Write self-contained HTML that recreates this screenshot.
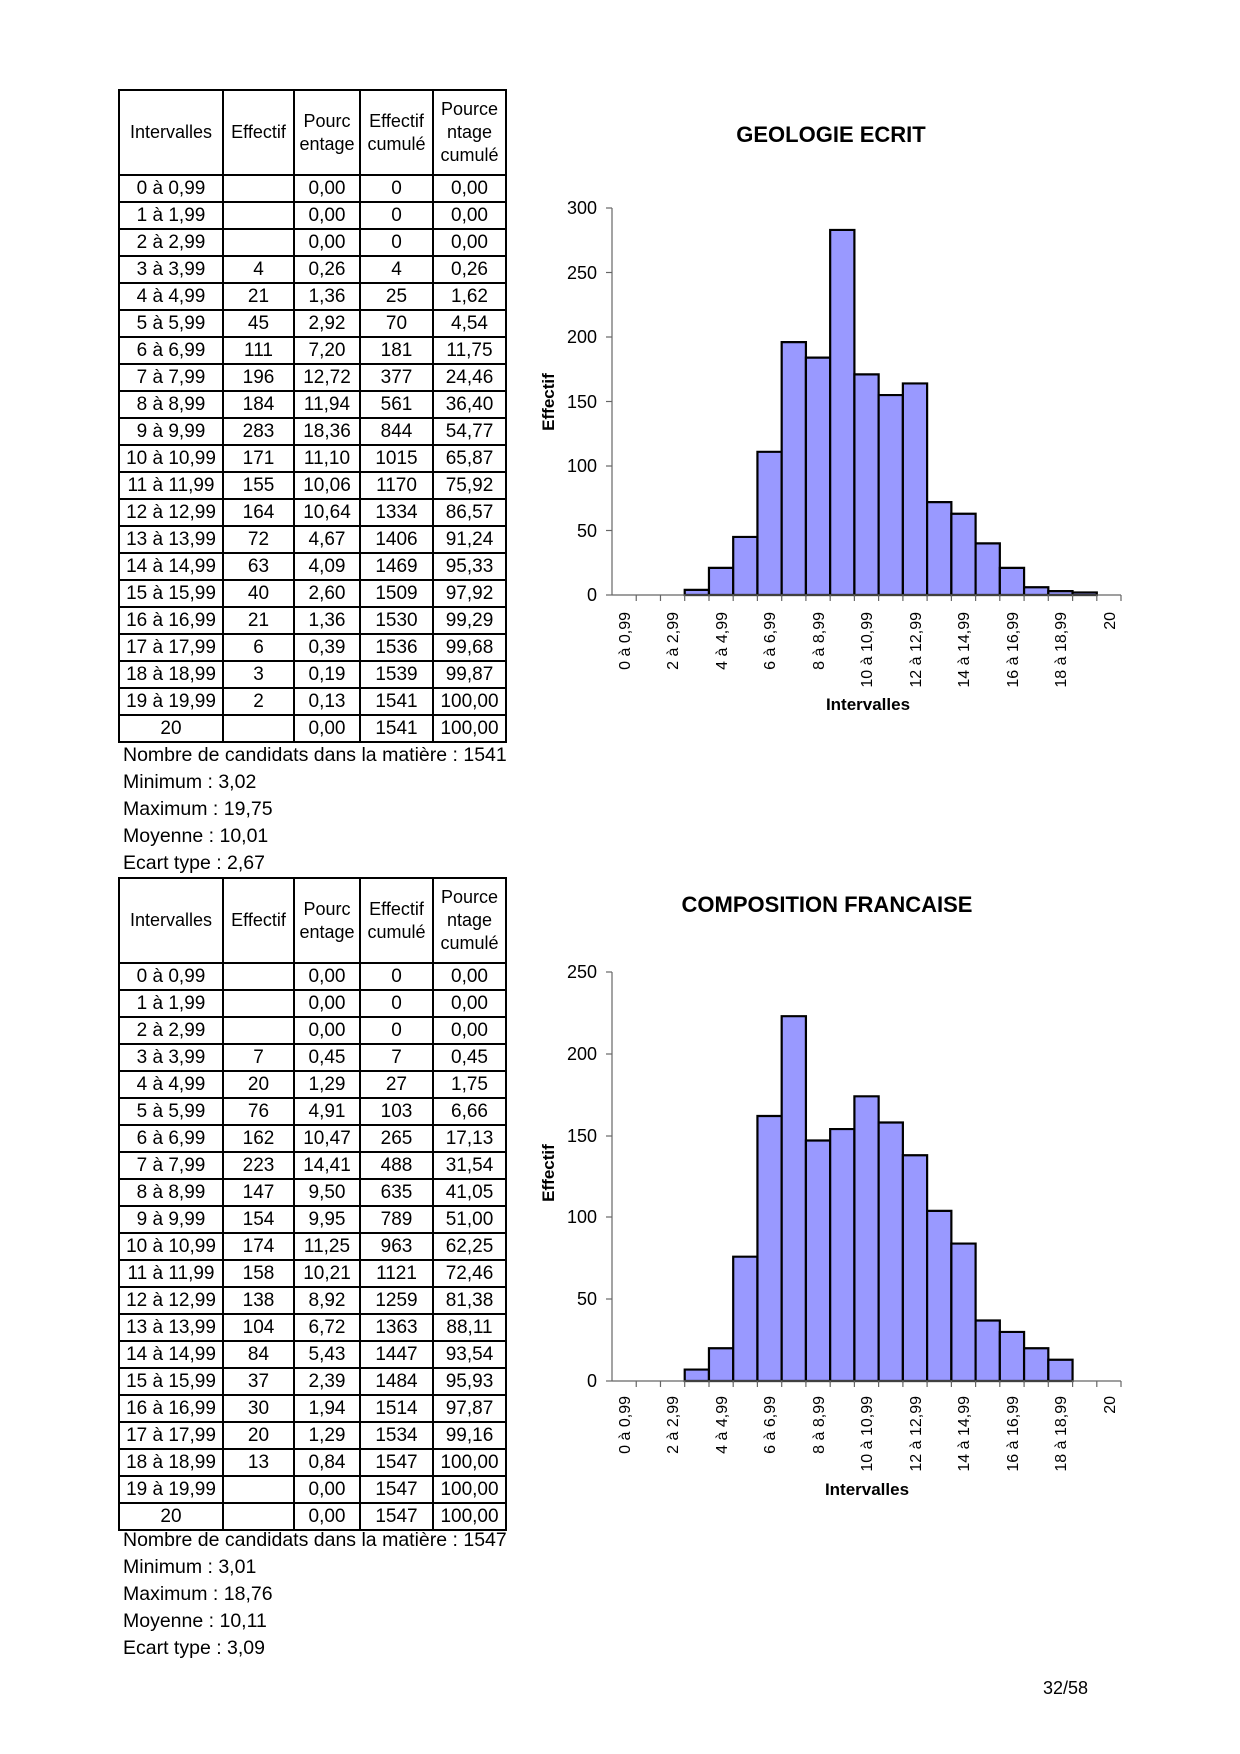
<!DOCTYPE html>
<html><head><meta charset="utf-8"><style>
body{margin:0;background:#fff;font-family:"Liberation Sans",Arial,sans-serif;}
.pg{position:relative;width:1240px;height:1754px;overflow:hidden;}
table{position:absolute;left:118px;border-collapse:collapse;width:387px;table-layout:fixed;font-size:19px;}
td{border:2px solid #000;text-align:center;padding:0;height:25px;line-height:24px;white-space:nowrap;overflow:visible;}
tr.h td{height:83px;font-size:18px;line-height:23px;white-space:normal;}
.st{position:absolute;left:123px;font-size:19.5px;line-height:27px;}
svg{position:absolute;left:0;top:0;}
</style></head><body><div class="pg">
<table style="top:89px">
<colgroup><col style="width:104px"><col style="width:71px"><col style="width:66px"><col style="width:73px"><col style="width:73px"></colgroup>
<tr class="h"><td>Intervalles</td><td>Effectif</td><td>Pourc<br>entage</td><td>Effectif<br>cumulé</td><td>Pource<br>ntage<br>cumulé</td></tr>
<tr><td>0 à 0,99</td><td></td><td>0,00</td><td>0</td><td>0,00</td></tr>
<tr><td>1 à 1,99</td><td></td><td>0,00</td><td>0</td><td>0,00</td></tr>
<tr><td>2 à 2,99</td><td></td><td>0,00</td><td>0</td><td>0,00</td></tr>
<tr><td>3 à 3,99</td><td>4</td><td>0,26</td><td>4</td><td>0,26</td></tr>
<tr><td>4 à 4,99</td><td>21</td><td>1,36</td><td>25</td><td>1,62</td></tr>
<tr><td>5 à 5,99</td><td>45</td><td>2,92</td><td>70</td><td>4,54</td></tr>
<tr><td>6 à 6,99</td><td>111</td><td>7,20</td><td>181</td><td>11,75</td></tr>
<tr><td>7 à 7,99</td><td>196</td><td>12,72</td><td>377</td><td>24,46</td></tr>
<tr><td>8 à 8,99</td><td>184</td><td>11,94</td><td>561</td><td>36,40</td></tr>
<tr><td>9 à 9,99</td><td>283</td><td>18,36</td><td>844</td><td>54,77</td></tr>
<tr><td>10 à 10,99</td><td>171</td><td>11,10</td><td>1015</td><td>65,87</td></tr>
<tr><td>11 à 11,99</td><td>155</td><td>10,06</td><td>1170</td><td>75,92</td></tr>
<tr><td>12 à 12,99</td><td>164</td><td>10,64</td><td>1334</td><td>86,57</td></tr>
<tr><td>13 à 13,99</td><td>72</td><td>4,67</td><td>1406</td><td>91,24</td></tr>
<tr><td>14 à 14,99</td><td>63</td><td>4,09</td><td>1469</td><td>95,33</td></tr>
<tr><td>15 à 15,99</td><td>40</td><td>2,60</td><td>1509</td><td>97,92</td></tr>
<tr><td>16 à 16,99</td><td>21</td><td>1,36</td><td>1530</td><td>99,29</td></tr>
<tr><td>17 à 17,99</td><td>6</td><td>0,39</td><td>1536</td><td>99,68</td></tr>
<tr><td>18 à 18,99</td><td>3</td><td>0,19</td><td>1539</td><td>99,87</td></tr>
<tr><td>19 à 19,99</td><td>2</td><td>0,13</td><td>1541</td><td>100,00</td></tr>
<tr><td>20</td><td></td><td>0,00</td><td>1541</td><td>100,00</td></tr>
</table>
<div class="st" style="top:742px">Nombre de candidats dans la matière : 1541<br>Minimum : 3,02<br>Maximum : 19,75<br>Moyenne : 10,01<br>Ecart type : 2,67</div>

<table style="top:877px">
<colgroup><col style="width:104px"><col style="width:71px"><col style="width:66px"><col style="width:73px"><col style="width:73px"></colgroup>
<tr class="h"><td>Intervalles</td><td>Effectif</td><td>Pourc<br>entage</td><td>Effectif<br>cumulé</td><td>Pource<br>ntage<br>cumulé</td></tr>
<tr><td>0 à 0,99</td><td></td><td>0,00</td><td>0</td><td>0,00</td></tr>
<tr><td>1 à 1,99</td><td></td><td>0,00</td><td>0</td><td>0,00</td></tr>
<tr><td>2 à 2,99</td><td></td><td>0,00</td><td>0</td><td>0,00</td></tr>
<tr><td>3 à 3,99</td><td>7</td><td>0,45</td><td>7</td><td>0,45</td></tr>
<tr><td>4 à 4,99</td><td>20</td><td>1,29</td><td>27</td><td>1,75</td></tr>
<tr><td>5 à 5,99</td><td>76</td><td>4,91</td><td>103</td><td>6,66</td></tr>
<tr><td>6 à 6,99</td><td>162</td><td>10,47</td><td>265</td><td>17,13</td></tr>
<tr><td>7 à 7,99</td><td>223</td><td>14,41</td><td>488</td><td>31,54</td></tr>
<tr><td>8 à 8,99</td><td>147</td><td>9,50</td><td>635</td><td>41,05</td></tr>
<tr><td>9 à 9,99</td><td>154</td><td>9,95</td><td>789</td><td>51,00</td></tr>
<tr><td>10 à 10,99</td><td>174</td><td>11,25</td><td>963</td><td>62,25</td></tr>
<tr><td>11 à 11,99</td><td>158</td><td>10,21</td><td>1121</td><td>72,46</td></tr>
<tr><td>12 à 12,99</td><td>138</td><td>8,92</td><td>1259</td><td>81,38</td></tr>
<tr><td>13 à 13,99</td><td>104</td><td>6,72</td><td>1363</td><td>88,11</td></tr>
<tr><td>14 à 14,99</td><td>84</td><td>5,43</td><td>1447</td><td>93,54</td></tr>
<tr><td>15 à 15,99</td><td>37</td><td>2,39</td><td>1484</td><td>95,93</td></tr>
<tr><td>16 à 16,99</td><td>30</td><td>1,94</td><td>1514</td><td>97,87</td></tr>
<tr><td>17 à 17,99</td><td>20</td><td>1,29</td><td>1534</td><td>99,16</td></tr>
<tr><td>18 à 18,99</td><td>13</td><td>0,84</td><td>1547</td><td>100,00</td></tr>
<tr><td>19 à 19,99</td><td></td><td>0,00</td><td>1547</td><td>100,00</td></tr>
<tr><td>20</td><td></td><td>0,00</td><td>1547</td><td>100,00</td></tr>
</table>
<div class="st" style="top:1527px">Nombre de candidats dans la matière : 1547<br>Minimum : 3,01<br>Maximum : 18,76<br>Moyenne : 10,11<br>Ecart type : 3,09</div>

<svg width="1240" height="1754" font-family="Liberation Sans, Arial, sans-serif">
<!-- Chart 1 -->
<text x="831" y="142" font-size="22" font-weight="bold" text-anchor="middle">GEOLOGIE ECRIT</text>
<g transform="translate(612,595) scale(24.24,-1.29)" fill="#9999ff" stroke="#000" stroke-width="2.2">
<rect vector-effect="non-scaling-stroke" x="3" y="0" width="1" height="4"/>
<rect vector-effect="non-scaling-stroke" x="4" y="0" width="1" height="21"/>
<rect vector-effect="non-scaling-stroke" x="5" y="0" width="1" height="45"/>
<rect vector-effect="non-scaling-stroke" x="6" y="0" width="1" height="111"/>
<rect vector-effect="non-scaling-stroke" x="7" y="0" width="1" height="196"/>
<rect vector-effect="non-scaling-stroke" x="8" y="0" width="1" height="184"/>
<rect vector-effect="non-scaling-stroke" x="9" y="0" width="1" height="283"/>
<rect vector-effect="non-scaling-stroke" x="10" y="0" width="1" height="171"/>
<rect vector-effect="non-scaling-stroke" x="11" y="0" width="1" height="155"/>
<rect vector-effect="non-scaling-stroke" x="12" y="0" width="1" height="164"/>
<rect vector-effect="non-scaling-stroke" x="13" y="0" width="1" height="72"/>
<rect vector-effect="non-scaling-stroke" x="14" y="0" width="1" height="63"/>
<rect vector-effect="non-scaling-stroke" x="15" y="0" width="1" height="40"/>
<rect vector-effect="non-scaling-stroke" x="16" y="0" width="1" height="21"/>
<rect vector-effect="non-scaling-stroke" x="17" y="0" width="1" height="6"/>
<rect vector-effect="non-scaling-stroke" x="18" y="0" width="1" height="3"/>
<rect vector-effect="non-scaling-stroke" x="19" y="0" width="1" height="2"/>
</g>
<g stroke="#666" stroke-width="1.2">
<line x1="612" y1="208" x2="612" y2="595"/><line x1="612" y1="595" x2="1121" y2="595"/>
<line x1="606" y1="595" x2="612" y2="595"/><line x1="606" y1="530.5" x2="612" y2="530.5"/><line x1="606" y1="466" x2="612" y2="466"/><line x1="606" y1="401.5" x2="612" y2="401.5"/><line x1="606" y1="337" x2="612" y2="337"/><line x1="606" y1="272.5" x2="612" y2="272.5"/><line x1="606" y1="208" x2="612" y2="208"/>
</g>
<g stroke="#666" stroke-width="1.2" transform="translate(612,595)">
<line x1="24.24" y1="0" x2="24.24" y2="6"/><line x1="48.48" y1="0" x2="48.48" y2="6"/><line x1="72.7" y1="0" x2="72.7" y2="6"/><line x1="97" y1="0" x2="97" y2="6"/><line x1="121.2" y1="0" x2="121.2" y2="6"/><line x1="145.4" y1="0" x2="145.4" y2="6"/><line x1="169.7" y1="0" x2="169.7" y2="6"/><line x1="193.9" y1="0" x2="193.9" y2="6"/><line x1="218.2" y1="0" x2="218.2" y2="6"/><line x1="242.4" y1="0" x2="242.4" y2="6"/><line x1="266.6" y1="0" x2="266.6" y2="6"/><line x1="290.9" y1="0" x2="290.9" y2="6"/><line x1="315.1" y1="0" x2="315.1" y2="6"/><line x1="339.4" y1="0" x2="339.4" y2="6"/><line x1="363.6" y1="0" x2="363.6" y2="6"/><line x1="387.8" y1="0" x2="387.8" y2="6"/><line x1="412.1" y1="0" x2="412.1" y2="6"/><line x1="436.3" y1="0" x2="436.3" y2="6"/><line x1="460.6" y1="0" x2="460.6" y2="6"/><line x1="484.8" y1="0" x2="484.8" y2="6"/><line x1="509" y1="0" x2="509" y2="6"/>
</g>
<g font-size="18" text-anchor="end">
<text x="597" y="601">0</text><text x="597" y="537">50</text><text x="597" y="472">100</text><text x="597" y="408">150</text><text x="597" y="343">200</text><text x="597" y="279">250</text><text x="597" y="214">300</text>
</g>
<g font-size="16" text-anchor="end">
<text transform="translate(630,612) rotate(-90)">0 à 0,99</text>
<text transform="translate(678,612) rotate(-90)">2 à 2,99</text>
<text transform="translate(727,612) rotate(-90)">4 à 4,99</text>
<text transform="translate(775,612) rotate(-90)">6 à 6,99</text>
<text transform="translate(824,612) rotate(-90)">8 à 8,99</text>
<text transform="translate(872,612) rotate(-90)">10 à 10,99</text>
<text transform="translate(921,612) rotate(-90)">12 à 12,99</text>
<text transform="translate(969,612) rotate(-90)">14 à 14,99</text>
<text transform="translate(1018,612) rotate(-90)">16 à 16,99</text>
<text transform="translate(1066,612) rotate(-90)">18 à 18,99</text>
<text transform="translate(1115,612) rotate(-90)">20</text>
</g>
<text x="868" y="710" font-size="17" font-weight="bold" text-anchor="middle">Intervalles</text>
<text transform="translate(554,402) rotate(-90)" font-size="17" font-weight="bold" text-anchor="middle">Effectif</text>

<!-- Chart 2 -->
<text x="827" y="912" font-size="22" font-weight="bold" text-anchor="middle">COMPOSITION FRANCAISE</text>
<g transform="translate(612,1381) scale(24.24,-1.636)" fill="#9999ff" stroke="#000" stroke-width="2.2">
<rect vector-effect="non-scaling-stroke" x="3" y="0" width="1" height="7"/>
<rect vector-effect="non-scaling-stroke" x="4" y="0" width="1" height="20"/>
<rect vector-effect="non-scaling-stroke" x="5" y="0" width="1" height="76"/>
<rect vector-effect="non-scaling-stroke" x="6" y="0" width="1" height="162"/>
<rect vector-effect="non-scaling-stroke" x="7" y="0" width="1" height="223"/>
<rect vector-effect="non-scaling-stroke" x="8" y="0" width="1" height="147"/>
<rect vector-effect="non-scaling-stroke" x="9" y="0" width="1" height="154"/>
<rect vector-effect="non-scaling-stroke" x="10" y="0" width="1" height="174"/>
<rect vector-effect="non-scaling-stroke" x="11" y="0" width="1" height="158"/>
<rect vector-effect="non-scaling-stroke" x="12" y="0" width="1" height="138"/>
<rect vector-effect="non-scaling-stroke" x="13" y="0" width="1" height="104"/>
<rect vector-effect="non-scaling-stroke" x="14" y="0" width="1" height="84"/>
<rect vector-effect="non-scaling-stroke" x="15" y="0" width="1" height="37"/>
<rect vector-effect="non-scaling-stroke" x="16" y="0" width="1" height="30"/>
<rect vector-effect="non-scaling-stroke" x="17" y="0" width="1" height="20"/>
<rect vector-effect="non-scaling-stroke" x="18" y="0" width="1" height="13"/>
</g>
<g stroke="#666" stroke-width="1.2">
<line x1="612" y1="972" x2="612" y2="1381"/><line x1="612" y1="1381" x2="1121" y2="1381"/>
<line x1="606" y1="1381" x2="612" y2="1381"/><line x1="606" y1="1299" x2="612" y2="1299"/><line x1="606" y1="1217" x2="612" y2="1217"/><line x1="606" y1="1136" x2="612" y2="1136"/><line x1="606" y1="1054" x2="612" y2="1054"/><line x1="606" y1="972" x2="612" y2="972"/>
</g>
<g stroke="#666" stroke-width="1.2" transform="translate(612,1381)">
<line x1="24.24" y1="0" x2="24.24" y2="6"/><line x1="48.48" y1="0" x2="48.48" y2="6"/><line x1="72.7" y1="0" x2="72.7" y2="6"/><line x1="97" y1="0" x2="97" y2="6"/><line x1="121.2" y1="0" x2="121.2" y2="6"/><line x1="145.4" y1="0" x2="145.4" y2="6"/><line x1="169.7" y1="0" x2="169.7" y2="6"/><line x1="193.9" y1="0" x2="193.9" y2="6"/><line x1="218.2" y1="0" x2="218.2" y2="6"/><line x1="242.4" y1="0" x2="242.4" y2="6"/><line x1="266.6" y1="0" x2="266.6" y2="6"/><line x1="290.9" y1="0" x2="290.9" y2="6"/><line x1="315.1" y1="0" x2="315.1" y2="6"/><line x1="339.4" y1="0" x2="339.4" y2="6"/><line x1="363.6" y1="0" x2="363.6" y2="6"/><line x1="387.8" y1="0" x2="387.8" y2="6"/><line x1="412.1" y1="0" x2="412.1" y2="6"/><line x1="436.3" y1="0" x2="436.3" y2="6"/><line x1="460.6" y1="0" x2="460.6" y2="6"/><line x1="484.8" y1="0" x2="484.8" y2="6"/><line x1="509" y1="0" x2="509" y2="6"/>
</g>
<g font-size="18" text-anchor="end">
<text x="597" y="1387">0</text><text x="597" y="1305">50</text><text x="597" y="1223">100</text><text x="597" y="1142">150</text><text x="597" y="1060">200</text><text x="597" y="978">250</text>
</g>
<g font-size="16" text-anchor="end">
<text transform="translate(630,1396) rotate(-90)">0 à 0,99</text>
<text transform="translate(678,1396) rotate(-90)">2 à 2,99</text>
<text transform="translate(727,1396) rotate(-90)">4 à 4,99</text>
<text transform="translate(775,1396) rotate(-90)">6 à 6,99</text>
<text transform="translate(824,1396) rotate(-90)">8 à 8,99</text>
<text transform="translate(872,1396) rotate(-90)">10 à 10,99</text>
<text transform="translate(921,1396) rotate(-90)">12 à 12,99</text>
<text transform="translate(969,1396) rotate(-90)">14 à 14,99</text>
<text transform="translate(1018,1396) rotate(-90)">16 à 16,99</text>
<text transform="translate(1066,1396) rotate(-90)">18 à 18,99</text>
<text transform="translate(1115,1396) rotate(-90)">20</text>
</g>
<text x="867" y="1495" font-size="17" font-weight="bold" text-anchor="middle">Intervalles</text>
<text transform="translate(554,1173) rotate(-90)" font-size="17" font-weight="bold" text-anchor="middle">Effectif</text>

<text x="1088" y="1694" font-size="18" text-anchor="end">32/58</text>
</svg>
</div></body></html>
